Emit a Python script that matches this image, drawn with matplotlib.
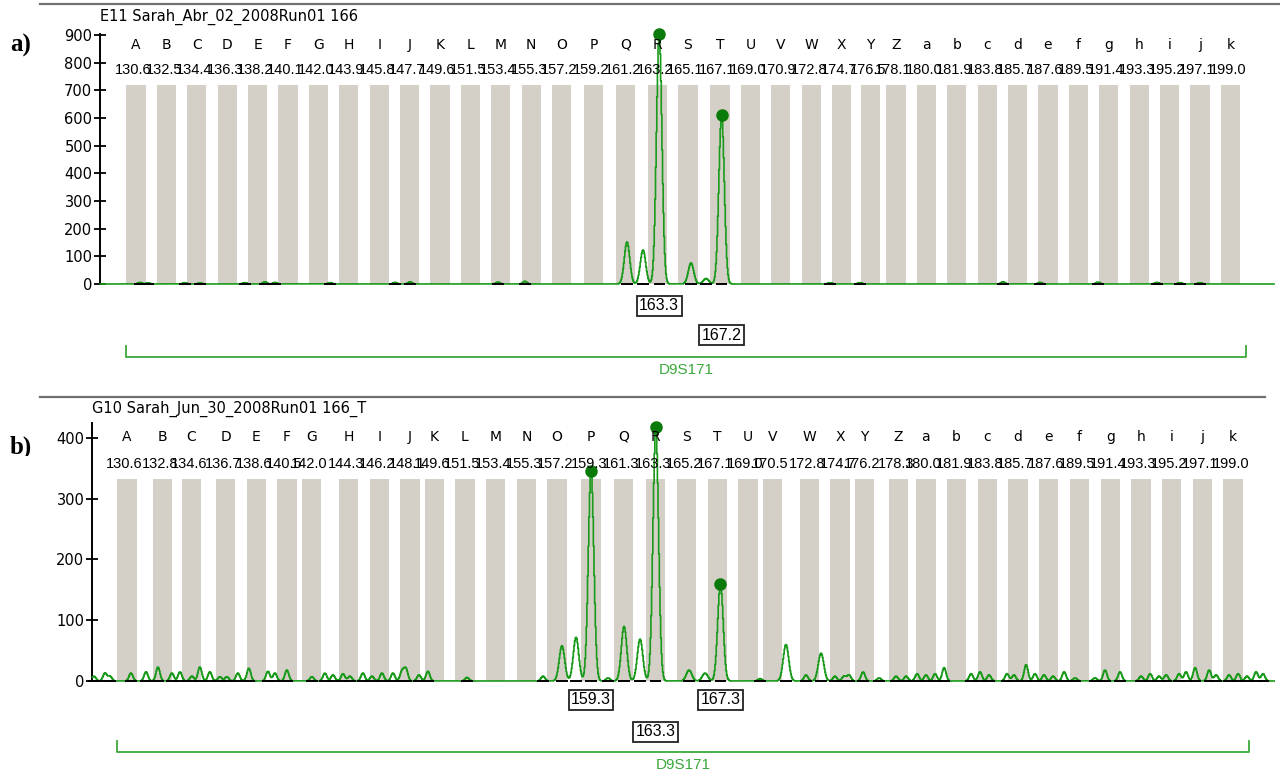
import numpy as np
import matplotlib
matplotlib.use("Agg")
import matplotlib.pyplot as plt
from matplotlib.lines import Line2D
from matplotlib.patches import Rectangle
from matplotlib.transforms import blended_transform_factory as btf

# ---------------- data ----------------
bin_letters = list("ABCDEFGHIJKLMNOPQRSTUVWXYZabcdefghijk")

bins_a = [130.6, 132.5, 134.4, 136.3, 138.2, 140.1, 142.0, 143.9, 145.8, 147.7,
          149.6, 151.5, 153.4, 155.3, 157.2, 159.2, 161.2, 163.2, 165.1, 167.1,
          169.0, 170.9, 172.8, 174.7, 176.5, 178.1, 180.0, 181.9, 183.8, 185.7,
          187.6, 189.5, 191.4, 193.3, 195.2, 197.1, 199.0]
bins_b = [130.6, 132.8, 134.6, 136.7, 138.6, 140.5, 142.0, 144.3, 146.2, 148.1,
          149.6, 151.5, 153.4, 155.3, 157.2, 159.3, 161.3, 163.3, 165.2, 167.1,
          169.0, 170.5, 172.8, 174.7, 176.2, 178.3, 180.0, 181.9, 183.8, 185.7,
          187.6, 189.5, 191.4, 193.3, 195.2, 197.1, 199.0]

# main peaks (size in bp, height in RFU)
peaks_a_pos = [161.29, 162.29, 163.3, 165.29, 166.23, 167.2]
peaks_a_h = [152, 123, 905, 76, 20, 611]
noise_a_pos = [130.85, 131.35, 133.66, 134.6, 137.41, 138.66, 139.29, 142.73,
               146.79, 147.73, 153.23, 154.91, 173.98, 175.85, 184.79, 187.1,
               190.73, 194.41, 195.85, 197.1]
noise_a_h = [6, 4, 5, 4, 5, 8, 6, 5, 6, 8, 7, 10, 5, 5, 8, 6, 7, 6, 5, 5]

peaks_b_pos = [157.50, 158.37, 159.3, 161.34, 162.33, 163.3, 165.36, 166.35,
               167.3, 171.35, 173.52]
peaks_b_h = [58, 72, 346, 90, 69, 418, 18, 13, 160, 60, 46]
noise_b_pos = [128.56, 129.24, 129.55, 130.85, 131.78, 132.52, 133.38, 133.88,
               134.62, 135.11, 135.73, 136.35, 136.78, 137.46, 138.14, 139.32,
               139.75, 140.49, 142.04, 142.84, 143.34, 143.96, 144.39, 145.19,
               145.75, 146.37, 147.05, 147.61, 147.85, 148.66, 149.21, 151.63,
               156.33, 160.35, 169.75, 172.59, 174.38, 174.94, 175.25, 176.12,
               177.11, 178.16, 178.78, 179.46, 180.01, 180.57, 181.13, 182.80,
               183.35, 183.91, 185.02, 185.45, 186.20, 186.75, 187.31, 187.87,
               188.55, 189.23, 190.46, 191.08, 192.01, 193.31, 193.87, 194.42,
               194.86, 195.66, 196.09, 196.65, 197.52, 197.95, 198.75, 199.31,
               199.86, 200.42, 200.85]
noise_b_h = [8, 13, 8, 13, 15, 23, 13, 15, 8, 23, 15, 7, 7, 13, 21, 16, 13, 18,
             7, 13, 10, 12, 8, 13, 8, 13, 13, 16, 20, 10, 16, 6, 8, 5, 4, 10, 8,
             8, 10, 15, 5, 8, 8, 12, 10, 12, 22, 12, 15, 10, 12, 10, 27, 12, 10,
             8, 15, 5, 5, 18, 15, 8, 12, 8, 10, 12, 15, 22, 18, 10, 10, 12, 8,
             15, 12]

called_a = [163.3, 167.2]
called_a_h = [905, 611]
called_b = [159.3, 163.3, 167.3]
called_b_h = [346, 418, 160]

titles = ["E11 Sarah_Abr_02_2008Run01 166", "G10 Sarah_Jun_30_2008Run01 166_T"]
marker_name = "D9S171"
marker_range = [130.0, 200.0]
yticks_a = [0, 100, 200, 300, 400, 500, 600, 700, 800, 900]
yticks_b = [0, 100, 200, 300, 400]

# ---------------- style ----------------
W, H = 1280, 776
BIN_COLOR = "#d4d0c8"
TRACE = "#1a9a1a"
MARK = "#0a7a0a"
LBL_GREEN = "#3aa83a"
FONT = "DejaVu Sans"
NFONT = "Liberation Sans"

fig = plt.figure(figsize=(W / 100, H / 100), dpi=100)


def fy(p):
    return 1 - p / H


def trace(xs, pos, hs, sig):
    y = np.zeros_like(xs)
    for p, h in zip(pos, hs):
        y += h * np.exp(-0.5 * ((xs - p) / sig) ** 2)
    return y


def panel(rect, xlim, ylim, yticks, bins, bin_top, pk_pos, pk_h, nz_pos, nz_h,
          called, called_h, label_rows, box_specs, bracket_y, title, title_xy,
          sep_line, letter_label, letter_xy):
    ax = fig.add_axes(rect)
    ax.set_xlim(*xlim)
    ax.set_ylim(*ylim)
    for s in ["top", "right", "bottom"]:
        ax.spines[s].set_visible(False)
    ax.spines["left"].set_linewidth(1.4)
    ax.spines["left"].set_bounds(0, ylim[1])
    ax.set_xticks([])
    ax.set_yticks(yticks)
    ax.tick_params(axis="y", direction="inout", length=9, width=1.3,
                   labelsize=10.5, pad=1)
    for t in ax.get_yticklabels():
        t.set_fontfamily(FONT)

    ax.bar(bins, [bin_top] * len(bins), width=1.2, color=BIN_COLOR,
           zorder=1, linewidth=0)

    xs = np.arange(xlim[0] + 0.02, xlim[1] - 0.02, 0.04)
    ys = trace(xs, pk_pos, pk_h, 0.17) + trace(xs, nz_pos, nz_h, 0.12)
    ax.plot(xs, ys, color=TRACE, lw=1.2, zorder=3, clip_on=False,
            drawstyle="steps-mid")
    # black baseline marks under detected peaks
    for p in list(pk_pos) + list(nz_pos):
        ax.plot([p - 0.35, p + 0.35], [0, 0], color="black", lw=1.4,
                zorder=4, clip_on=False, solid_capstyle="butt")
    ax.plot(called, called_h, "o", color=MARK, ms=8, zorder=5, clip_on=False)

    tr = btf(ax.transData, fig.transFigure)
    ly, ny = label_rows
    for b, l in zip(bins, bin_letters):
        ax.text(b, fy(ly), l, transform=tr, ha="center", va="center",
                fontsize=10, family=FONT, zorder=6)
        ax.text(b - 0.15, fy(ny), f"{b:.1f}", transform=tr, ha="center",
                va="center", fontsize=10.5, family=NFONT, zorder=6)

    base_px = box_specs[0]
    for x, ctr in box_specs[1]:
        top = ctr - 12
        ax.add_line(Line2D([x, x], [fy(base_px), fy(top)], transform=tr,
                           color="#333333", lw=1.3, zorder=2))
        ax.text(x, fy(ctr), f"{x:.1f}", transform=tr, ha="center",
                va="center", fontsize=11.5, family=NFONT, zorder=7,
                bbox=dict(boxstyle="square,pad=0.15", fc="white",
                          ec="#222222", lw=1.3))

    y0, y1 = bracket_y
    m0, m1 = marker_range
    ax.add_line(Line2D([m0, m0, m1, m1], [fy(y1), fy(y0), fy(y0), fy(y1)],
                       transform=tr, color=LBL_GREEN, lw=1.3, clip_on=False))
    ax.text((m0 + m1) / 2, fy(y0 + 13), marker_name, transform=tr,
            ha="center", va="center", fontsize=11, family=NFONT,
            color=LBL_GREEN)

    fig.text(title_xy[0] / W, fy(title_xy[1]), title, ha="left",
             va="center", fontsize=10.5, family=FONT)
    fig.add_artist(Line2D([sep_line[0] / W, sep_line[1] / W],
                          [fy(sep_line[2])] * 2, color="#707070", lw=1.6))
    fig.text(letter_xy[0] / W, fy(letter_xy[1]), letter_label, ha="left",
             va="center", fontsize=18, family="Liberation Serif",
             weight="bold")
    return ax


# panel a: y 0 at px 284, 905 at px 33.6 ; x from 100 to 1275 px
pa = panel([100 / W, fy(284), 1175 / W, 250.4 / H], (128.35, 201.79), (0, 905),
           yticks_a, bins_a, 720, peaks_a_pos, peaks_a_h, noise_a_pos,
           noise_a_h, called_a, called_a_h, (45, 70),
           (284, [(163.3, 306), (167.2, 335)]), (357, 346), titles[0],
           (100, 17), (40, 1280, 4), "a)", (10, 45))

# panel b: y 0 at px 681, 425 at px 423 ; x from 92 to 1275 px
pb = panel([92 / W, fy(681), 1183 / W, 258.2 / H], (128.44, 201.59), (0, 425),
           yticks_b, bins_b, 333, peaks_b_pos, peaks_b_h, noise_b_pos,
           noise_b_h, called_b, called_b_h, (437, 464),
           (681, [(159.3, 700), (163.3, 732), (167.3, 700)]), (752, 741),
           titles[1], (92, 409), (40, 1265, 397), "b)", (10, 447))

# the "b)" label is partly hidden at its bottom in the original
fig.add_artist(Rectangle((0, fy(470)), 60 / W, 14 / H, transform=fig.transFigure,
                         fc="white", ec="none", zorder=10))

fig.savefig("out.png", dpi=100)
